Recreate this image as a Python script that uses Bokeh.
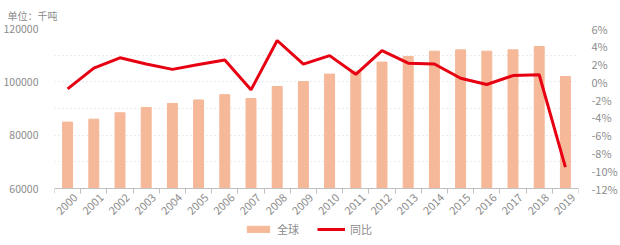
from bokeh.plotting import figure
from bokeh.models import (Range1d, LinearAxis, FixedTicker, PrintfTickFormatter,
                          ColumnDataSource, Legend, LegendItem, Title)
from bokeh.embed import file_html
from bokeh.resources import INLINE
import math

years = ["2000", "2001", "2002", "2003", "2004", "2005", "2006", "2007", "2008", "2009",
         "2010", "2011", "2012", "2013", "2014", "2015", "2016", "2017", "2018", "2019"]
global_vals = [84900, 86000, 88400, 90400, 91900, 93200, 95200, 93750, 98250, 100100,
               102900, 104000, 107400, 109500, 111500, 112000, 111500, 112000, 113250, 102000]
yoy_pct = [-0.8, 1.55, 2.7, 2.0, 1.4, 1.95, 2.45, -0.9, 4.65, 2.0,
           2.95, 0.85, 3.5, 2.1, 2.0, 0.4, -0.3, 0.7, 0.8, -9.6]
left_ticks = [60000, 80000, 100000, 120000]
right_ticks = [-12, -10, -8, -6, -4, -2, 0, 2, 4, 6]

FONT = "Noto Sans CJK SC"
GRAY = "#8c8c8c"

n = len(years)
centers = [i + 0.5 for i in range(n)]
label_pos = [round(i + 0.8, 2) for i in range(n)]
src = ColumnDataSource(dict(x=centers, v=global_vals, p=yoy_pct))

# frame spans y=28..245; value 60000 / -12% sit at y=188
px_per_k = 160 / 60000.0
extra = 57 / px_per_k
pct_px = 160 / 18.0
p = figure(width=620, height=245, output_backend="svg", toolbar_location=None,
           x_range=Range1d(0, n), y_range=Range1d(60000 - extra, 120000),
           x_axis_location=None,
           min_border_left=50, min_border_right=38, min_border_top=28, min_border_bottom=0)
p.outline_line_color = None
p.extra_y_ranges = {"pct": Range1d(-12 - 57 / pct_px, 6)}

bars = p.vbar(x="x", top="v", bottom=60000, width=0.38, color="#f5b898", source=src)
line = p.line(x="x", y="p", y_range_name="pct", line_color="#e60012", line_width=3, source=src)

# grid
p.xgrid.visible = False
p.ygrid.ticker = FixedTicker(ticks=list(range(70000, 120001, 10000)))
p.ygrid.grid_line_color = "#d9d9d9"
p.ygrid.grid_line_dash = "1 3"

# left axis
ly = p.yaxis[0]
ly.ticker = FixedTicker(ticks=left_ticks)
ly.formatter = PrintfTickFormatter(format="%d")
ly.axis_line_color = None
ly.major_tick_line_color = None
ly.minor_tick_line_color = None
ly.major_label_text_color = GRAY
ly.major_label_text_font = FONT
ly.major_label_text_font_size = "10.5px"
ly.major_label_standoff = 10

# right axis
ry = LinearAxis(y_range_name="pct", ticker=FixedTicker(ticks=right_ticks),
                formatter=PrintfTickFormatter(format="%d%%"))
ry.axis_line_color = None
ry.major_tick_line_color = None
ry.minor_tick_line_color = None
ry.major_label_text_color = GRAY
ry.major_label_text_font = FONT
ry.major_label_text_font_size = "11px"
ry.major_label_standoff = 7
p.add_layout(ry, "right")

# x axis, fixed at the 60000 baseline inside the frame
xa = LinearAxis(fixed_location=60000,
                ticker=FixedTicker(ticks=label_pos, minor_ticks=list(range(n + 1))))
xa.major_label_overrides = {c: y for c, y in zip(label_pos, years)}
xa.major_tick_line_color = None
xa.minor_tick_line_color = "#bfbfbf"
xa.minor_tick_in = 0
xa.minor_tick_out = 5
xa.axis_line_color = "#bfbfbf"
xa.major_label_orientation = math.pi / 4
xa.major_label_text_color = GRAY
xa.major_label_text_font = FONT
xa.major_label_text_font_size = "11px"
xa.major_label_standoff = 1
p.add_layout(xa, "below")

# title
t = Title(text="单位：千吨", text_font=FONT, text_font_size="10px", text_color=GRAY,
          text_font_style="normal", offset=-47, standoff=11)
p.add_layout(t, "above")

legend = Legend(items=[LegendItem(label="全球", renderers=[bars]),
                       LegendItem(label="同比", renderers=[line])],
                orientation="horizontal", location=(190, 8),
                label_text_font=FONT, label_text_font_size="11px", label_text_color=GRAY,
                glyph_width=28, glyph_height=8, spacing=18, padding=0, margin=0,
                label_height=12, border_line_color=None, background_fill_alpha=0)
p.add_layout(legend, "center")

open("out.html", "w").write(file_html(p, INLINE))
